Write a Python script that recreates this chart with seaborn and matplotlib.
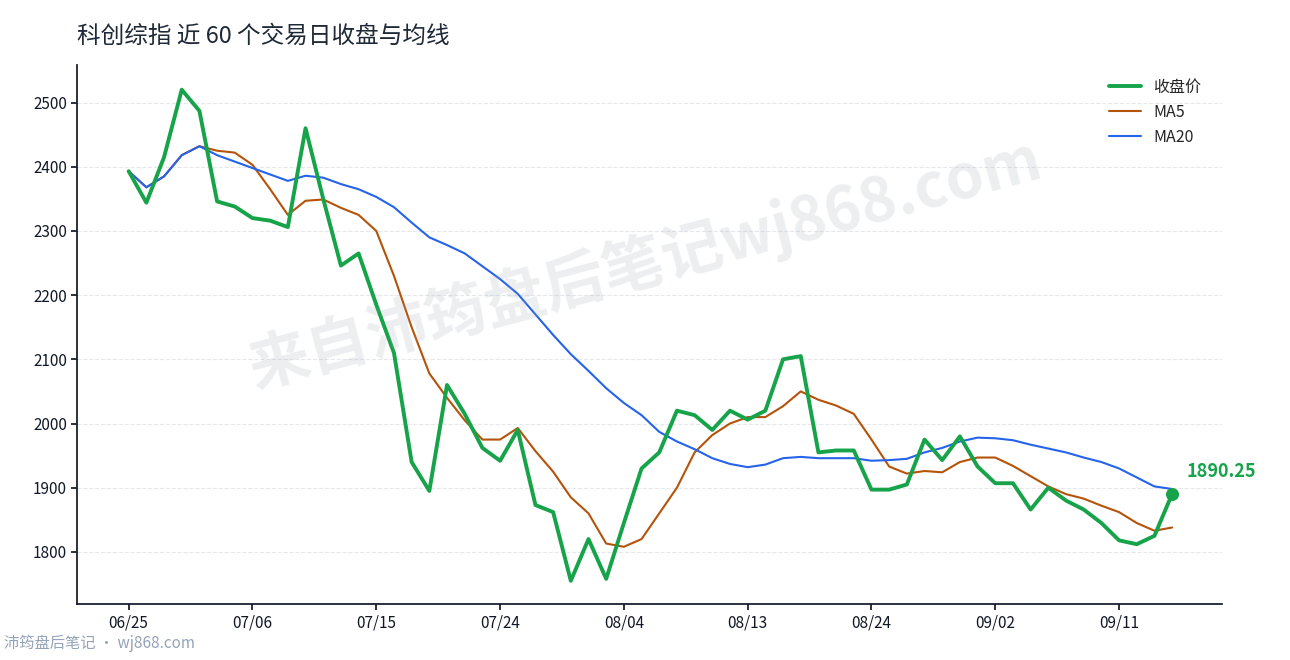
import matplotlib
matplotlib.use("Agg")
import matplotlib.pyplot as plt
import seaborn as sns
import pandas as pd

close = [2393,2344,2415,2520,2487,2346,2338,2320,2316,2306,2460,2350,2246,2265,2185,2110,1940,1895,2060,2015,
         1962,1942,1990,1873,1862,1755,1820,1758,1845,1930,1955,2020,2013,1990,2020,2006,2020,2100,2105,1955,
         1958,1958,1897,1897,1905,1975,1943,1980,1933,1907,1907,1866,1900,1880,1866,1845,1818,1812,1825,1890.25]
ma5 = [2393,2368,2385,2418,2432,2425,2422,2403,2365,2325,2347,2349,2336,2325,2300,2230,2150,2078,2040,
       2005,1975,1975,1993,1957,1925,1885,1860,1813,1808,1820,1860,1900,1955,1982,2000,2010,2010,2027,2050,
       2037,2028,2015,1975,1933,1922,1926,1924,1940,1947,1947,1934,1918,1902,1890,1883,1872,1862,1845,1833,1838]
ma20 = [2393,2368,2385,2418,2432,2418,2408,2398,2388,2378,2386,2383,2373,2365,2353,2337,2313,2290,2278,2265,
        2245,2225,2202,2170,2138,2108,2082,2055,2032,2013,1987,1972,1960,1946,1937,1932,1936,1946,1948,1946,
        1946,1946,1942,1943,1945,1955,1962,1972,1978,1977,1974,1967,1961,1955,1947,1940,1930,1916,1902,1898]
tick_labels = ["06/25","07/06","07/15","07/24","08/04","08/13","08/24","09/02","09/11"]

sns.set_theme(style="white")
plt.rcParams['font.family'] = ['Noto Sans CJK SC', 'DejaVu Sans']

df = pd.DataFrame({"i": range(len(close)), "close": close, "ma5": ma5, "ma20": ma20})
fig, ax = plt.subplots(figsize=(12.9, 6.6), dpi=100)
fig.subplots_adjust(left=0.06, right=0.947, top=0.902, bottom=0.085)

sns.lineplot(data=df, x="i", y="close", ax=ax, color="#16a34a", lw=2.8, label="收盘价", zorder=3)
sns.lineplot(data=df, x="i", y="ma5", ax=ax, color="#b45309", lw=1.5, label="MA5", zorder=2)
sns.lineplot(data=df, x="i", y="ma20", ax=ax, color="#2563eb", lw=1.5, label="MA20", zorder=2)
ax.scatter([len(close)-1], [close[-1]], s=70, color="#16a34a", zorder=4)
ax.annotate(f"{close[-1]:.2f}", (len(close)-1, close[-1]), xytext=(10, 12), textcoords="offset points",
            color="#16a34a", fontsize=13, fontweight="bold")

ax.set_xlim(-2.9, 61.8)
ax.set_ylim(1719, 2559)
ax.set_xticks(range(0, 7*len(tick_labels), 7))
ax.set_xticklabels(tick_labels)
ax.set_yticks(range(1800, 2501, 100))
ax.tick_params(labelsize=11, length=4, bottom=True, left=True, colors="#111827")
ax.set_xlabel(""); ax.set_ylabel("")
ax.grid(axis="y", ls="--", color="#e5e7eb", lw=0.8)
for s in ["top", "right"]:
    ax.spines[s].set_visible(False)
for s in ["left", "bottom"]:
    ax.spines[s].set_color("#111827")
ax.legend(loc="upper right", frameon=False, fontsize=11.5, bbox_to_anchor=(0.995, 1.0))
fig.text(0.06, 0.945, "科创综指 近 60 个交易日收盘与均线", fontsize=17, color="#1f2937", va="center")
fig.text(0.5, 0.6, "来自沛筠盘后笔记wj868.com", fontsize=44, color="#9ca3af", alpha=0.18,
         rotation=15, ha="center", va="center", fontweight="bold")
fig.text(0.003, 0.018, "沛筠盘后笔记 · wj868.com", fontsize=11, color="#94a3b8")
fig.savefig("out.png")
